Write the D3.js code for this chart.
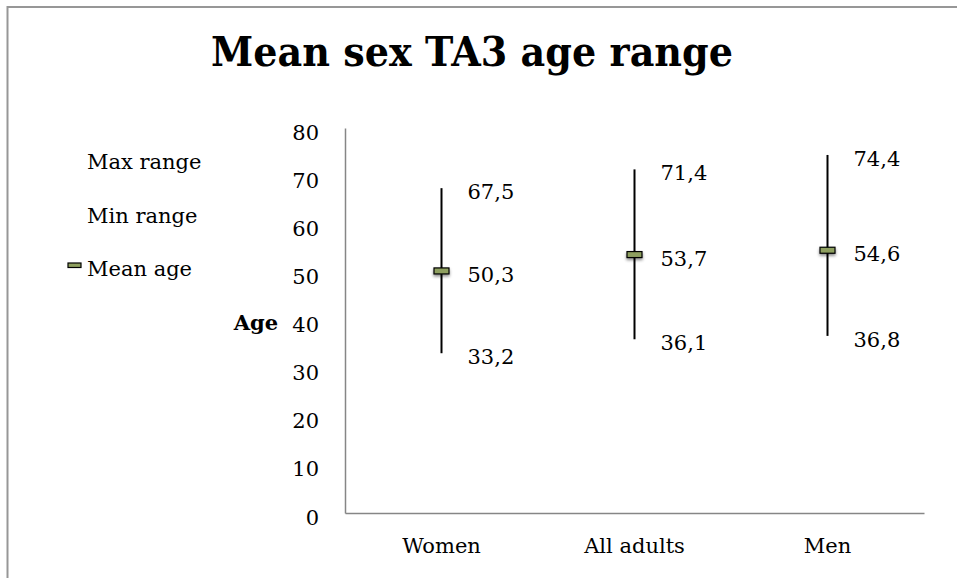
<!DOCTYPE html>
<html>
<head>
<meta charset="utf-8">
<script src="https://cdn.jsdelivr.net/npm/d3@7"></script>
<style>
  html, body { margin: 0; padding: 0; background: #fff; }
  svg { display: block; }
  text { font-family: "DejaVu Serif", "Liberation Serif", serif; fill: #000; }
</style>
</head>
<body>
<svg id="chart" width="957" height="578"></svg>
<script>
// Age range by group: max, min and mean
const groups = ["Women", "All adults", "Men"];
const maxAge = [67.5, 71.4, 74.4];
const minAge = [33.2, 36.1, 36.8];
const meanAge = [50.3, 53.7, 54.6];
const yTicks = [0, 10, 20, 30, 40, 50, 60, 70, 80];
const legendItems = ["Max range", "Min range", "Mean age"];

const svg = d3.select("#chart");
const fmt = v => d3.format(".1f")(v).replace(".", ",");
const FS = 21;

// outer chart frame (continues past the visible area)
svg.append("rect")
  .attr("x", 7.5).attr("y", 7)
  .attr("width", 1200).attr("height", 1000)
  .attr("fill", "none").attr("stroke", "#979797").attr("stroke-width", 2);

// title
svg.append("text")
  .attr("x", 472).attr("y", 66)
  .attr("text-anchor", "middle")
  .attr("font-size", 41).attr("font-weight", "bold")
  .attr("textLength", 522).attr("lengthAdjust", "spacingAndGlyphs")
  .text("Mean sex TA3 age range");

const x = d3.scaleBand().domain(groups).range([345, 924]);
const y = d3.scaleLinear().domain([0, 80]).range([513, 128]);

// axes
const yAxis = svg.append("g").attr("transform", "translate(345,0)")
  .call(d3.axisLeft(y).tickValues(yTicks).tickSize(0).tickPadding(26));
const xAxis = svg.append("g").attr("transform", "translate(0,513)")
  .call(d3.axisBottom(x).tickSize(0).tickPadding(25));
[yAxis, xAxis].forEach(a => {
  a.select(".domain").attr("stroke", "#868686").attr("stroke-width", 1.5);
  a.selectAll("text").attr("font-size", FS).attr("font-family", "DejaVu Serif, serif");
});
yAxis.selectAll("text").attr("dy", null).attr("dominant-baseline", null)
  .attr("transform", "translate(0,11)");

// axis title
svg.append("text")
  .attr("x", 278).attr("y", 330)
  .attr("text-anchor", "end")
  .attr("font-size", FS).attr("font-weight", "bold")
  .text("Age");

// shadow for the mean markers
const defs = svg.append("defs");
const f = defs.append("filter").attr("id", "shadow")
  .attr("x", "-50%").attr("y", "-100%").attr("width", "200%").attr("height", "400%");
f.append("feDropShadow").attr("dx", 0).attr("dy", 2).attr("stdDeviation", 1.5)
  .attr("flood-color", "#000").attr("flood-opacity", 0.45);

const data = groups.map((g, i) => ({ g, max: maxAge[i], min: minAge[i], mean: meanAge[i] }));
const cx = d => x(d.g) + x.bandwidth() / 2;

// high-low lines
svg.append("g").selectAll("line").data(data).join("line")
  .attr("x1", cx).attr("x2", cx)
  .attr("y1", d => y(d.max)).attr("y2", d => y(d.min))
  .attr("stroke", "#000").attr("stroke-width", 2);

// mean markers
svg.append("g").selectAll("rect").data(data).join("rect")
  .attr("x", d => cx(d) - 7.5).attr("y", d => y(d.mean) - 3)
  .attr("width", 15).attr("height", 6)
  .attr("fill", "#8e9f5e").attr("stroke", "#000").attr("stroke-width", 1.2)
  .attr("filter", "url(#shadow)");

// value labels
const labels = svg.append("g");
["max", "mean", "min"].forEach(k => {
  labels.selectAll("text." + k).data(data).join("text")
    .attr("class", k)
    .attr("x", d => cx(d) + 26)
    .attr("y", d => y(d[k]) + 11)
    .attr("font-size", FS)
    .text(d => fmt(d[k]));
});

// legend
const leg = svg.append("g");
legendItems.forEach((t, i) => {
  const ly = 169 + i * 53.5;
  leg.append("text").attr("x", 87).attr("y", ly).attr("font-size", FS).text(t);
  if (t === "Mean age") {
    leg.append("rect").attr("x", 68).attr("y", ly - 13)
      .attr("width", 13).attr("height", 4.5)
      .attr("fill", "#8e9f5e").attr("stroke", "#000").attr("stroke-width", 1.2);
  }
});
</script>
</body>
</html>
